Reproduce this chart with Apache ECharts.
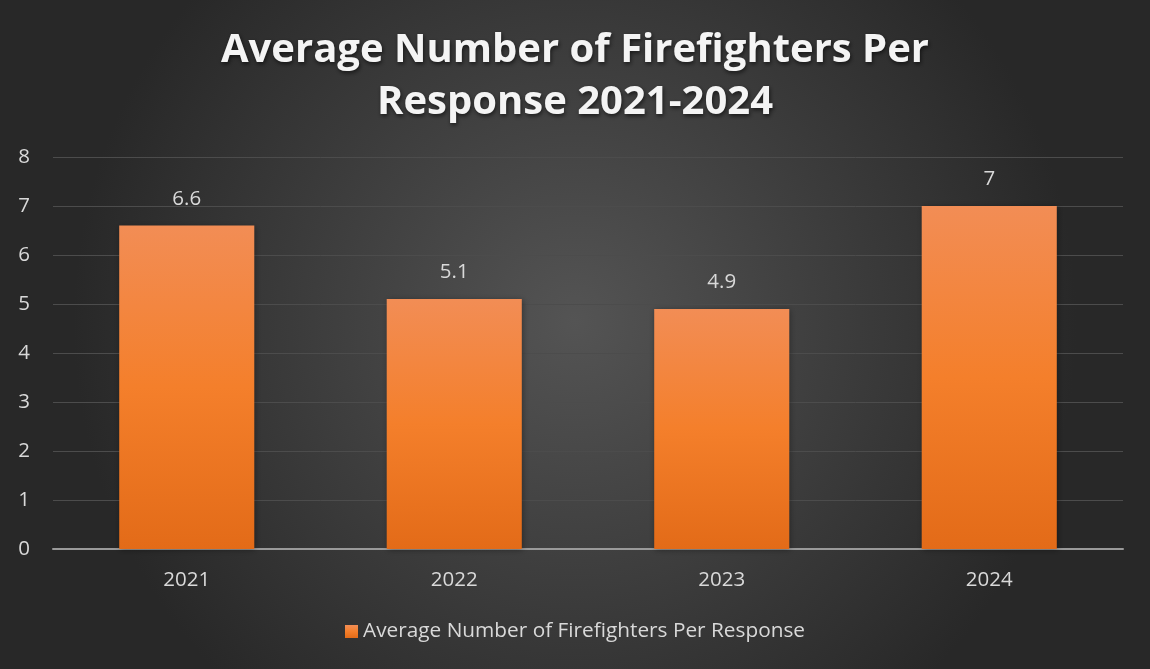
<!DOCTYPE html>
<html>
<head>
<meta charset="utf-8">
<script src="https://cdn.jsdelivr.net/npm/echarts@6/dist/echarts.min.js"></script>
<style>
html,body{margin:0;padding:0;width:1150px;height:669px;overflow:hidden;background:#333;}
#c{width:1150px;height:669px;}
</style>
</head>
<body>
<div id="c"></div>
<script>
const titleText = 'Average Number of Firefighters Per\nResponse 2021-2024';
const categories = ['2021', '2022', '2023', '2024'];
const seriesName = 'Average Number of Firefighters Per Response';
const values = [6.6, 5.1, 4.9, 7];
const yTicks = [0, 1, 2, 3, 4, 5, 6, 7, 8];

const chart = echarts.init(document.getElementById('c'), null, {renderer: 'canvas'});
const font = '"Open Sans", "Noto Sans", sans-serif';
const option = {
  animation: false,
  backgroundColor: {
    type: 'radial', x: 0.5, y: 0.48, r: 0.75,
    colorStops: [
      {offset: 0, color: '#545454'},
      {offset: 1, color: '#282828'}
    ]
  },
  title: {
    text: titleText,
    left: 'center',
    top: 20,
    textStyle: {
      color: '#f4f4f4',
      fontFamily: font,
      fontWeight: 'bold',
      fontSize: 40,
      lineHeight: 52,
      textShadowColor: 'rgba(0,0,0,0.6)',
      textShadowBlur: 4,
      textShadowOffsetX: 1,
      textShadowOffsetY: 2
    }
  },
  legend: {
    bottom: 22,
    left: 'center',
    itemWidth: 13,
    itemHeight: 13,
    itemGap: 4,
    icon: 'rect',
    textStyle: {color: '#d9d9d9', fontSize: 20.8, fontFamily: font},
    data: [seriesName]
  },
  grid: {left: 53, right: 27, top: 157, bottom: 120, containLabel: false},
  xAxis: {
    type: 'category',
    data: categories,
    axisLine: {show: true, lineStyle: {color: '#9a9a9a', width: 2}},
    axisTick: {show: false},
    axisLabel: {color: '#d9d9d9', fontSize: 20.5, fontFamily: font, margin: 21}
  },
  yAxis: {
    type: 'value',
    min: yTicks[0],
    max: yTicks[yTicks.length - 1],
    interval: 1,
    axisLine: {show: false},
    axisTick: {show: false},
    splitLine: {lineStyle: {color: '#4c4c4c', width: 1}},
    axisLabel: {color: '#d9d9d9', fontSize: 20.5, fontFamily: font, margin: 29, align: 'center'}
  },
  series: [{
    name: seriesName,
    type: 'bar',
    data: values,
    barWidth: '50.5%',
    itemStyle: {
      color: {
        type: 'linear', x: 0, y: 0, x2: 0, y2: 1,
        colorStops: [
          {offset: 0, color: '#f28d55'},
          {offset: 0.5, color: '#f47f2b'},
          {offset: 1, color: '#e36b18'}
        ]
      },
      shadowColor: 'rgba(0,0,0,0.35)',
      shadowBlur: 6,
      shadowOffsetX: 1,
      shadowOffsetY: 1
    },
    label: {
      show: true,
      position: 'top',
      distance: 16,
      color: '#d9d9d9',
      fontSize: 20.5,
      fontFamily: font
    }
  }]
};
chart.setOption(option);
</script>
</body>
</html>
